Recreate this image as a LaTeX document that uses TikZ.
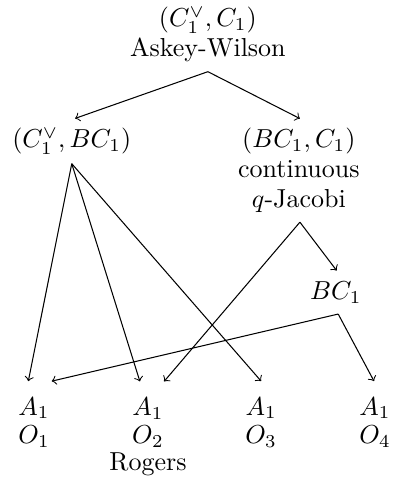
\documentclass[tikz,border=0pt]{standalone}
\usepackage{amssymb}
\usepackage{tikz}
\usetikzlibrary{arrows, positioning, calc}

\begin{document}
\begin{tikzpicture}[
        lbl/.style={inner xsep=0pt, inner ysep=3.5pt, align=center, anchor=base},
        leaf/.style={lbl, inner ysep=6pt},
        ar/.style={->}
    ]
        \useasboundingbox (0,0) rectangle (5.325,6.475);

        % Families (base = last line)
        \node[lbl] (aw) at (2.81, 5.708) {$(C_1^\vee,C_1)$\\[-0.5pt] Askey-Wilson};
        \node[lbl] (cbc) at (0.97, 4.48) {$(C_1^\vee,BC_1)$};
        \node[lbl] (bcc) at (4.04, 3.67) {$(BC_1,C_1)$\\[-0.5pt] continuous\\[-0.5pt] $q$-Jacobi};
        \node[lbl, inner ysep=4pt] (bc) at (4.54, 2.43) {$BC_1$};

        % Rank one leaves
        \node[leaf] (o1) at (0.46, 0.478) {$A_1$\\[-1pt] $O_1$};
        \node[leaf] (o2) at (2.00, 0.112) {$A_1$\\[-1pt] $O_2$\\[-1.7pt] Rogers};
        \node[leaf] (o3) at (3.53, 0.478) {$A_1$\\[-1pt] $O_3$};
        \node[leaf] (o4) at (5.07, 0.478) {$A_1$\\[-1pt] $O_4$};

        % Limits
        \draw[ar] (aw.south) -- ([xshift=1.3pt]cbc.north);
        \draw[ar] (aw.south) -- ([xshift=0.4pt]bcc.north);
        \draw[ar] (cbc.south) -- ([xshift=-2.2pt]o1.north);
        \draw[ar] (cbc.south) -- ([xshift=-3.1pt]o2.north);
        \draw[ar] (cbc.south) -- (o3.north);
        \draw[ar] ([xshift=0.4pt]bcc.south) -- ([xshift=0.3pt]bc.north);
        \draw[ar] ([xshift=0.4pt]bcc.south) -- ([xshift=6.2pt]o2.north);
        \draw[ar] ([xshift=0.9pt]bc.south) -- ([xshift=6.8pt]o1.north);
        \draw[ar] ([xshift=0.9pt]bc.south) -- ([xshift=-0.4pt]o4.north);
    \end{tikzpicture}
\end{document}
